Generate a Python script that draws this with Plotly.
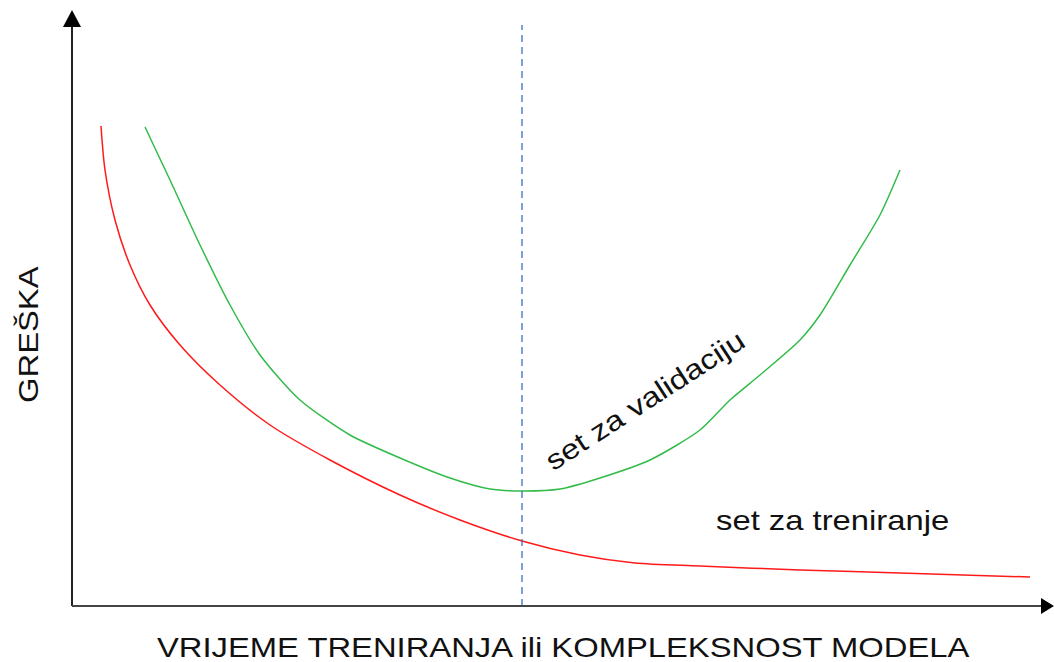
import plotly.graph_objects as go

# Data (x: model complexity / training time units, y: error units)
train_x = [29, 33, 43, 58, 78, 108, 148, 198, 258, 328, 388, 450, 508, 563, 628, 728, 828, 958]
train_y = [480, 436, 386, 341, 301, 261, 221, 181, 146, 111, 86, 65, 51, 43, 40, 36, 33, 29]

val_x = [73, 98, 128, 158, 188, 228, 278, 328, 378, 418, 450, 488, 528, 578, 628, 658, 688, 728, 748, 778, 808, 828]
val_y = [479, 426, 361, 301, 251, 206, 171, 148, 128, 117, 115, 117, 128, 146, 176, 206, 231, 266, 291, 341, 391, 436]

optimum_x = 450
axis_x_max = 982
axis_y_max = 596

W, H = 1054, 662
L, R, T, B = 72, 0, 10, 56
PW, PH = W - L - R, H - T - B

def px(x):
    return (x - L) / PW

def py(y):
    return (H - B - y) / PH

fig = go.Figure()
fig.add_trace(go.Scatter(x=train_x, y=train_y, mode="lines", line=dict(color="#ff1a1a", width=1.5, shape="spline", smoothing=0.8), hoverinfo="skip"))
fig.add_trace(go.Scatter(x=val_x, y=val_y, mode="lines", line=dict(color="#33bb4a", width=1.5, shape="spline", smoothing=0.7), hoverinfo="skip"))
fig.add_trace(go.Scatter(x=[optimum_x, optimum_x], y=[0, 581], mode="lines", line=dict(color="#3a6fc4", width=1.3, dash="7px,5px"), hoverinfo="skip"))

shapes = [
    dict(type="line", xref="paper", yref="paper", x0=px(72), y0=py(606), x1=px(72), y1=py(24), line=dict(color="#222", width=2)),
    dict(type="line", xref="paper", yref="paper", x0=px(72), y0=py(606), x1=px(1044), y1=py(606), line=dict(color="#444", width=2)),
    dict(type="path", xref="paper", yref="paper",
         path=f"M {px(63)} {py(27)} L {px(72)} {py(10)} L {px(81)} {py(27)} Z", fillcolor="#000", line=dict(width=0)),
    dict(type="path", xref="paper", yref="paper",
         path=f"M {px(1041)} {py(598)} L {px(1054)} {py(606)} L {px(1041)} {py(614)} Z", fillcolor="#000", line=dict(width=0)),
]

font = "Liberation Sans, Arial, sans-serif"
common = dict(xref="paper", yref="paper", showarrow=False, xanchor="center", yanchor="middle")
annotations = [
    dict(text="set za validaciju", x=px(645), y=py(400), textangle=-33,
         font=dict(family=font, size=28, color="#111"), **common),
    dict(text="set za treniranje", x=px(832), y=py(520),
         font=dict(family=font, size=28, color="#111"), **common),
    dict(text="GREŠKA", x=px(28), y=py(335), textangle=-90,
         font=dict(family=font, size=28, color="#111"), **common),
    dict(text="VRIJEME TRENIRANJA ili KOMPLEKSNOST MODELA", x=px(563), y=py(647),
         font=dict(family=font, size=28, color="#111"), **common),
]

fig.update_layout(
    width=W, height=H,
    margin=dict(l=L, r=R, t=T, b=B, pad=0),
    paper_bgcolor="white", plot_bgcolor="white",
    showlegend=False,
    shapes=shapes, annotations=annotations,
    xaxis=dict(range=[0, axis_x_max], visible=False, fixedrange=True),
    yaxis=dict(range=[0, axis_y_max], visible=False, fixedrange=True),
)

post = (
    "document.body.style.margin='0';document.body.style.overflow='hidden';"
    "document.querySelectorAll('.annotation-text').forEach(function(t){"
    "t.style.transformBox='fill-box';t.style.transformOrigin='center';t.style.transform='scaleX(1.17)';});"
)
fig.write_html("out.html", config={"displayModeBar": False}, post_script=post)
